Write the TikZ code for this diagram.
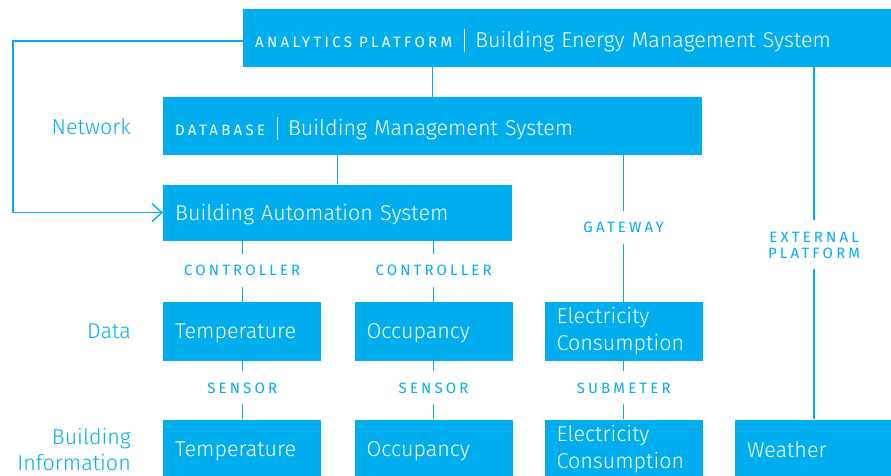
\documentclass[tikz,border=0pt]{standalone}
\usepackage{fontspec}
\setmainfont{Fira Sans Light}
\newfontfamily\capsfont{Fira Sans}
\usetikzlibrary{positioning,arrows.meta}

\definecolor{bemsblue}{HTML}{00AEEF}
\newcommand{\vbar}{\hspace{12pt}\rule[-5pt]{1pt}{23pt}\hspace{10pt}}
\newcommand{\caps}[1]{{\capsfont\fontsize{15}{16}\selectfont\addfontfeatures{LetterSpace=22}#1}}

\begin{document}
\begin{tikzpicture}
  [x=1pt, y=1pt,
    box/.style={
      rectangle,
      fill=bemsblue,
      text=white,
      font=\fontsize{21.5}{27}\selectfont,
      inner xsep=12pt, inner ysep=0pt,
      align=left,
      text width=134pt,
      text depth=0pt,
      minimum height=59pt,
    },
    twoline/.style={text depth={}},
    tag/.style={
      text=bemsblue,
      font=\capsfont\fontsize{15}{16}\selectfont\addfontfeatures{LetterSpace=21},
      align=center,
      inner xsep=0pt, inner ysep=11pt,
    },
    side/.style={
      text=bemsblue,
      font=\fontsize{21.5}{26}\selectfont,
      align=right,
      inner sep=0pt,
    },
    link/.style={draw=bemsblue, line width=1.4pt},
  ]
  \useasboundingbox (0,0) rectangle (891,476);

  % system layers
  \node[box, anchor=north west, text width=636pt, minimum height=58pt] (analytics) at (243,467)
    {\caps{ANALYTICS PLATFORM}\vbar Building Energy Management System};
  \node[box, anchor=north west, text width=515pt, minimum height=58pt] (bms) at (163,379)
    {\caps{DATABASE}\vbar Building Management System};
  \node[box, below=29pt of bms.south west, anchor=north west, text width=325pt, minimum height=56pt] (bas)
    {Building Automation System};

  % data row
  \node[box, anchor=north west] (tempD) at (163,174.3) {Temperature};
  \node[box, right=33pt of tempD] (occD) {Occupancy};
  \node[box, twoline, right=31.7pt of occD] (elecD) {Electricity\\Consumption};

  % building information row
  \node[box, below=58.3pt of tempD] (tempI) {Temperature};
  \node[box, right=33pt of tempI] (occI) {Occupancy};
  \node[box, twoline, right=31.7pt of occI] (elecI) {Electricity\\Consumption};
  \node[box, right=32pt of elecI] (weather) {Weather};

  % level labels
  \node[side, left=32pt of bms] (network) {Network};
  \node[side, left=32pt of tempD] (data) {Data};
  \node[side, left=32pt of tempI] (info) {Building\\Information};

  % connector labels
  \node[tag, above=15pt of tempD] (ctrlT) {CONTROLLER};
  \node[tag, above=15pt of occD] (ctrlO) {CONTROLLER};
  \node[tag, above=58pt of elecD] (gateway) {GATEWAY};
  \node[tag, above=150pt of weather] (external) {EXTERNAL\\PLATFORM};
  \node[tag, above=15pt of tempI] (sensT) {SENSOR};
  \node[tag, above=15pt of occI] (sensO) {SENSOR};
  \node[tag, above=15pt of elecI] (submeter) {SUBMETER};

  % connectors
  \draw[link] (analytics.south -| bms.north) -- (bms.north);
  \draw[link] (bms.south -| bas.north) -- (bas.north);
  \draw[link] (bas.south -| ctrlT.north) -- (ctrlT) -- (tempD);
  \draw[link] (bas.south -| ctrlO.north) -- (ctrlO) -- (occD);
  \draw[link] (bms.south -| gateway.north) -- (gateway) -- (elecD);
  \draw[link] (analytics.south -| external.north) -- (external) -- (weather);
  \draw[link] (tempD) -- (sensT) -- (tempI);
  \draw[link] (occD) -- (sensO) -- (occI);
  \draw[link] (elecD) -- (submeter) -- (elecI);
  \draw[link, -{Straight Barb[length=10pt, width=18pt]}]
    ([yshift=-3pt]analytics.west) -- ++(-230,0) |- (bas.west);
\end{tikzpicture}
\end{document}
